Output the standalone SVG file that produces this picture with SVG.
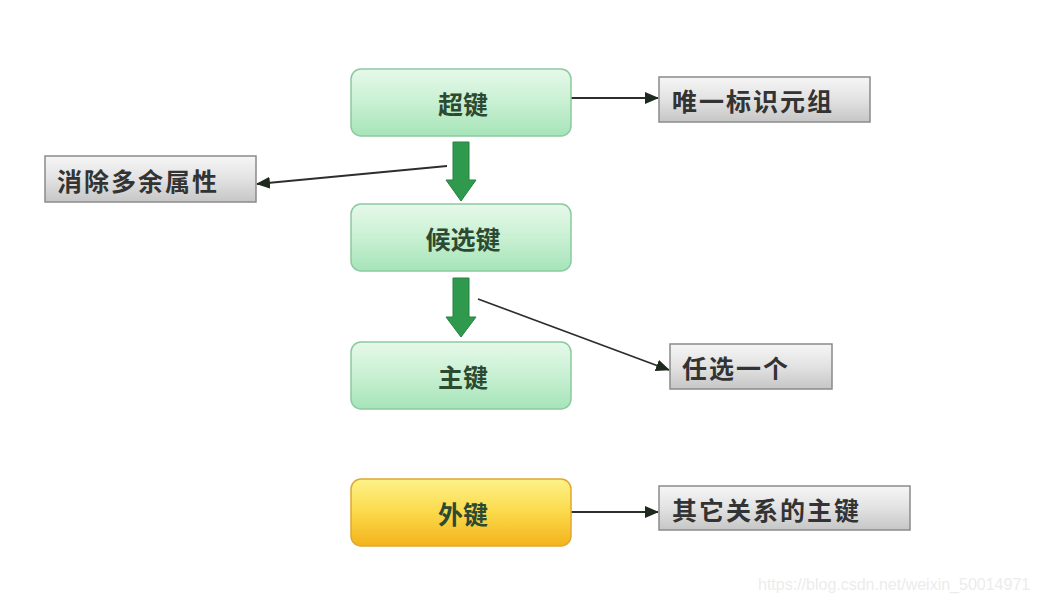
<svg xmlns="http://www.w3.org/2000/svg" width="1037" height="603" viewBox="0 0 1037 603">
<defs>
<linearGradient id="gGreen" x1="0" y1="0" x2="0" y2="1">
<stop offset="0" stop-color="#e6f9ea"/>
<stop offset="0.5" stop-color="#c8f0d2"/>
<stop offset="1" stop-color="#a6e4b8"/>
</linearGradient>
<linearGradient id="gYellow" x1="0" y1="0" x2="0" y2="1">
<stop offset="0" stop-color="#fdf28a"/>
<stop offset="0.5" stop-color="#fbd94a"/>
<stop offset="1" stop-color="#f3b31c"/>
</linearGradient>
<linearGradient id="gGrey" x1="0" y1="0" x2="0" y2="1">
<stop offset="0" stop-color="#f6f6f6"/>
<stop offset="0.5" stop-color="#e2e2e2"/>
<stop offset="1" stop-color="#c6c6c6"/>
</linearGradient>
<marker id="ah" markerWidth="14" markerHeight="12" refX="13" refY="6" orient="auto" markerUnits="userSpaceOnUse">
<path d="M0,0 L14,6 L0,12 Z" fill="#1e2a1e"/>
</marker>
</defs>
<style>
.gbox{fill:url(#gGreen);stroke:#8cc9a0;stroke-width:1.5}
.ybox{fill:url(#gYellow);stroke:#e0a830;stroke-width:1.5}
.nbox{fill:url(#gGrey);stroke:#8a8a8a;stroke-width:1.5}
.t{font-family:"Noto Sans CJK SC","Liberation Sans",sans-serif;text-anchor:middle;dominant-baseline:central}
.tg{fill:#2c4a32;font-weight:bold;font-size:25px}
.tn{fill:#333333;font-weight:bold;text-anchor:start;font-size:25px;letter-spacing:2px}
.c{stroke:#2a2f2a;stroke-width:1.8;fill:none;marker-end:url(#ah)}
.big{fill:#2f9a4e;stroke:#27813f;stroke-width:1}
</style>
<rect width="1037" height="603" fill="#ffffff"/>

<g id="connectors">
<line class="c" x1="571" y1="98" x2="658" y2="98"/>
<line class="c" x1="447" y1="166" x2="257" y2="184"/>
<line class="c" x1="478" y1="299" x2="669" y2="370"/>
<line class="c" x1="571" y1="512" x2="658" y2="512"/>
<path class="big" d="M453,142 H469 V180 H476 L461,201 L446,180 H453 Z"/>
<path class="big" d="M453,278 H469 V317 H476 L461,337 L446,317 H453 Z"/>
</g>

<g id="n-superkey">
<rect class="gbox" x="351" y="69" width="220" height="67" rx="10"/>
<text class="t tg" x="463" y="103">超键</text>
</g>
<g id="n-candidate">
<rect class="gbox" x="351" y="204" width="220" height="67" rx="10"/>
<text class="t tg" x="463" y="238">候选键</text>
</g>
<g id="n-primary">
<rect class="gbox" x="351" y="342" width="220" height="67" rx="10"/>
<text class="t tg" x="463" y="376">主键</text>
</g>
<g id="n-foreign">
<rect class="ybox" x="351" y="479" width="220" height="67" rx="10"/>
<text class="t tg" x="463" y="513">外键</text>
</g>

<g id="n-unique">
<rect class="nbox" x="659" y="77" width="211" height="45"/>
<text class="t tn" x="672" y="100">唯一标识元组</text>
</g>
<g id="n-remove">
<rect class="nbox" x="45" y="156" width="211" height="46"/>
<text class="t tn" x="57" y="180">消除多余属性</text>
</g>
<g id="n-choose">
<rect class="nbox" x="670" y="344" width="162" height="45"/>
<text class="t tn" x="682" y="367">任选一个</text>
</g>
<g id="n-other">
<rect class="nbox" x="659" y="486" width="251" height="44"/>
<text class="t tn" x="672" y="509">其它关系的主键</text>
</g>

<text x="758" y="590" font-family="Liberation Sans, sans-serif" font-size="16" fill="#ececec">https://blog.csdn.net/weixin_50014971</text>
</svg>
